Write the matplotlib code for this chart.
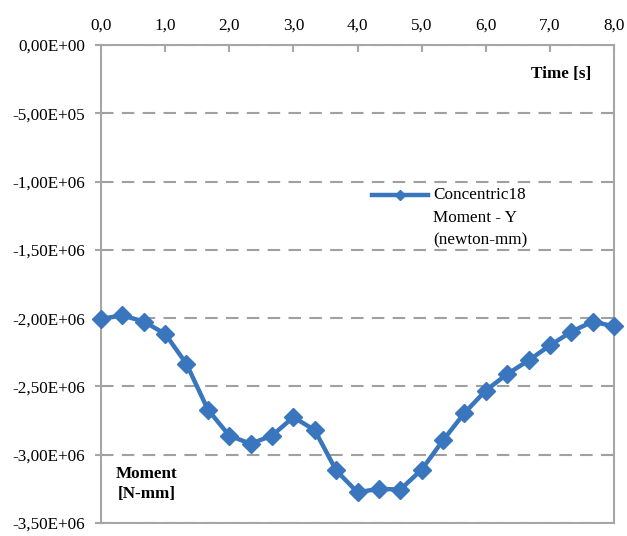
import matplotlib
matplotlib.use("Agg")
import matplotlib.pyplot as plt
from matplotlib.ticker import FuncFormatter, MultipleLocator
from matplotlib.lines import Line2D

plt.rcParams['font.family'] = ['Liberation Serif', 'DejaVu Serif']

time_s = [0.0, 0.333, 0.667, 1.0, 1.333, 1.667, 2.0, 2.333, 2.667, 3.0, 3.333, 3.667,
          4.0, 4.333, 4.667, 5.0, 5.333, 5.667, 6.0, 6.333, 6.667, 7.0, 7.333, 7.667, 8.0]
moment = [-2.005e6, -1.98e6, -2.025e6, -2.115e6, -2.335e6, -2.67e6, -2.86e6, -2.92e6,
          -2.86e6, -2.725e6, -2.82e6, -3.115e6, -3.275e6, -3.25e6, -3.255e6, -3.11e6,
          -2.895e6, -2.695e6, -2.53e6, -2.41e6, -2.31e6, -2.20e6, -2.10e6, -2.025e6, -2.06e6]
series_label = ["Concentric18", "Moment - Y", "(newton-mm)"]

FS = 12.3
fig = plt.figure(figsize=(6.27, 5.36), dpi=100)
ax = fig.add_axes([101/627, 1 - 523/536, (614-101)/627, (523-45)/536])

color = '#3A76BD'
ax.plot(time_s, moment, color=color, lw=3.2, marker='D', ms=9,
        mec=color, mfc=color, zorder=3, clip_on=False)

ax.set_xlim(0, 8)
ax.set_ylim(-3.5e6, 0)
ax.xaxis.set_major_locator(MultipleLocator(1))
ax.yaxis.set_major_locator(MultipleLocator(5e5))
ax.xaxis.tick_top()
ax.xaxis.set_major_formatter(FuncFormatter(lambda v, p: f"{v:.1f}".replace('.', ',')))

def yfmt(v, p):
    if abs(v) < 1:
        return "0,00E+00"
    return f"{v:.2E}".replace('.', ',')
ax.yaxis.set_major_formatter(FuncFormatter(yfmt))

gray = '#A6A6A6'
for sp in ax.spines.values():
    sp.set_color(gray)
    sp.set_linewidth(1.5)
ax.tick_params(axis='x', which='major', direction='in', length=5, width=1.5,
               color=gray, labelsize=FS, pad=8)
ax.tick_params(axis='y', which='major', direction='out', length=4, width=1.5,
               color=gray, labelsize=FS, pad=7.5)
ax.grid(axis='y', color='#A0A0A0', lw=1.5, ls=(0, (6, 4)))
ax.set_axisbelow(True)

fig.text(591/627, 1 - 74/536, "Time [s]", ha='right', va='center',
         fontsize=FS, fontweight='bold')
fig.text(147/627, 1 - 484/536, "Moment\n[N-mm]", ha='center', va='center',
         fontsize=FS, fontweight='bold', linespacing=1.25)

# legend (manual, handle aligned with first text line)
fig.add_artist(Line2D([372/627, 428/627], [1 - 195/536, 1 - 195/536], color=color,
                      lw=3.2, transform=fig.transFigure))
fig.add_artist(Line2D([400/627], [1 - 195/536], color=color, marker='D', ms=5,
                      mec=color, mfc=color, transform=fig.transFigure))
for i, line in enumerate(series_label):
    fig.text(433/627, 1 - (195 + 22.5 * i)/536, line, ha='left', va='center',
             fontsize=FS)

fig.savefig("out.png", dpi=100)
